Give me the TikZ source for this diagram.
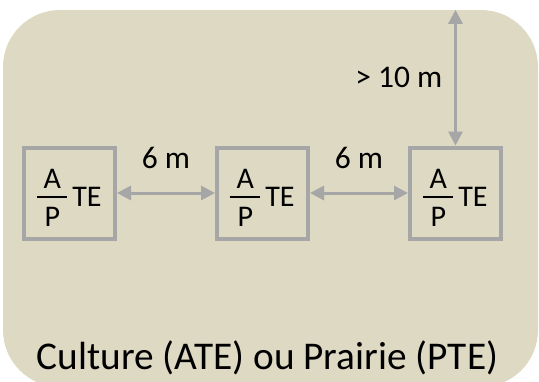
\documentclass[tikz,border=0pt]{standalone}
\usepackage{fontspec}
\setmainfont{Carlito}
\usetikzlibrary{arrows.meta,positioning}
\usepackage{xcolor}

\definecolor{fieldtan}{HTML}{DDD9C3}
\definecolor{linegray}{HTML}{A6A6A6}

\tikzset{
  trapbox/.style={draw=linegray, line width=4pt, minimum width=91pt, minimum height=91pt,
    inner sep=0pt, font=\fontsize{30}{36}\selectfont},
  gaparrow/.style={linegray, line width=3pt,
    {Triangle[length=14pt,width=14pt]}-{Triangle[length=14pt,width=14pt]}},
  distlabel/.style={text=black, inner sep=2pt, font=\fontsize{31.5}{37}\selectfont}
}

% A over P, then TE
\newcommand{\trapname}{\raisebox{0pt}[37pt][10pt]{%
  \rlap{\raisebox{17.7pt}{\makebox[30pt]{A}}}%
  \rlap{\raisebox{8.55pt}{\rule{30pt}{1.5pt}}}%
  \raisebox{-20pt}{\makebox[30pt]{P}}%
  \kern5pt TE}}

\begin{document}
\begin{tikzpicture}[x=1pt,y=-1pt]
\useasboundingbox (0,0) rectangle (539,381);

% Draw the field (background)
\node[fill=fieldtan, rounded corners=57pt, minimum width=535pt, minimum height=377pt,
  inner sep=0pt] (field) at (270.5,198.5) {};

% Draw the three traps
\node[trapbox] (trapA) at (69.5,193) {\trapname};
\node[trapbox, right=98pt of trapA] (trapB) {\trapname};
\node[trapbox, right=98pt of trapB] (trapC) {\trapname};

% Distances between the traps
\draw[gaparrow] (trapA) -- node[distlabel, above=20.5pt] {6 m} (trapB);
\draw[gaparrow] (trapB) -- node[distlabel, above=20.5pt] {6 m} (trapC);

% Distance to the edge of the field
\draw[gaparrow] (trapC.north) -- node[distlabel, left=9.7pt] {> 10 m} (trapC.north |- field.north);

\node[anchor=base, font=\fontsize{39.3}{46}\selectfont] (crop) at (267.5,369)
  {Culture (ATE) ou Prairie (PTE)};
\end{tikzpicture}
\end{document}
